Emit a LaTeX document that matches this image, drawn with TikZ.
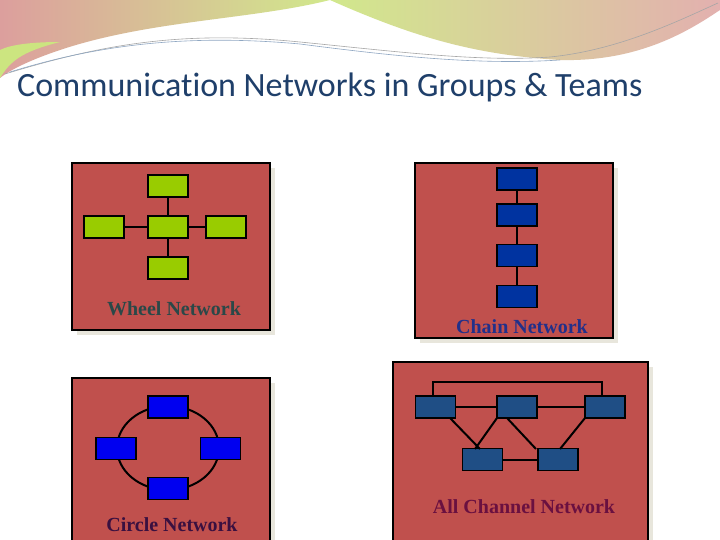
\documentclass[tikz,border=0pt]{standalone}
\usepackage{fontspec}
\setmainfont{Liberation Serif}
\newfontfamily\titlefont[Ligatures={NoCommon}]{Carlito}
\definecolor{panel}{HTML}{C0504D}
\definecolor{lime}{HTML}{99CC00}
\definecolor{chainblue}{HTML}{0033A0}
\definecolor{brightblue}{HTML}{0000F0}
\definecolor{steel}{HTML}{1F4E85}
\definecolor{titleblue}{HTML}{1F3F6A}
\definecolor{wheeltxt}{HTML}{2A4848}
\definecolor{chaintxt}{HTML}{22308A}
\definecolor{circletxt}{HTML}{3A1040}
\definecolor{alltxt}{HTML}{6A1040}
\definecolor{shade}{HTML}{E8E6DC}
\begin{document}
\begin{tikzpicture}[x=1pt,y=-1pt,
  panelbox/.style={draw=black,line width=1.8pt,fill=panel},
  shadowbox/.style={fill=shade},
  nodebox/.style={draw=black,line width=1.8pt,minimum width=40pt,minimum height=22pt,inner sep=0pt},
  link/.style={draw=black,line width=2pt},
  lbl/.style={font=\bfseries\fontsize{20}{22}\selectfont}]
\useasboundingbox (0,0) rectangle (720,540);
\fill[white] (0,0) rectangle (720,540);
% header waves
\shade[left color=panel!55!white,right color=lime!45!white] (0,0) -- (330,0) .. controls (250,20) and (150,20) .. (60,50) .. controls (30,60) and (10,70) .. (0,78) -- cycle;
\shade[left color=lime!45!white,right color=panel!45!white] (330,0) .. controls (420,40) and (480,55) .. (560,60) .. controls (640,62) and (690,30) .. (720,10) -- (720,0) -- cycle;
\fill[lime!50!white] (0,50) .. controls (10,45) and (30,42) .. (60,42) .. controls (20,52) and (10,62) .. (0,78) -- cycle;
\draw[gray!70,line width=0.6pt] (5,74) .. controls (100,45) and (180,30) .. (300,42) .. controls (400,52) and (480,62) .. (550,57) .. controls (620,50) and (680,20) .. (718,3);
\draw[steel!50,line width=0.6pt] (10,72) .. controls (100,44) and (190,34) .. (300,44) .. controls (400,57) and (480,65) .. (560,60);
\node[anchor=base west,inner sep=0pt,text=titleblue,font=\titlefont\fontsize{34}{38}\selectfont] (title) at (17,97) {Communication Networks in Groups \& Teams};
% shadows
\fill[shadowbox] (77,168) rectangle (275,335);
\fill[shadowbox] (420,168) rectangle (618,343);
\fill[shadowbox] (77,383) rectangle (275,540);
\fill[shadowbox] (398,367) rectangle (653,540);
% Wheel
\draw[panelbox] (72,163) rectangle (270,330);
\node[nodebox,fill=lime] (wt) at (168,186) {};
\node[nodebox,fill=lime] (wl) at (104,227) {};
\node[nodebox,fill=lime] (wc) at (168,227) {};
\node[nodebox,fill=lime] (wr) at (226,227) {};
\node[nodebox,fill=lime] (wb) at (168,268) {};
\draw[link] (wt) -- (wc) (wl) -- (wc) (wc) -- (wr) (wc) -- (wb);
\node[lbl,text=wheeltxt] (wlab) at (174,309) {Wheel Network};
% Chain
\draw[panelbox] (415,163) rectangle (613,338);
\node[nodebox,fill=chainblue] (c1) at (517,179) {};
\node[nodebox,fill=chainblue] (c2) at (517,215) {};
\node[nodebox,fill=chainblue] (c3) at (517,255.5) {};
\node[nodebox,fill=chainblue] (c4) at (517,296.5) {};
\draw[link] (c1) -- (c2) (c2) -- (c3) (c3) -- (c4);
\node[lbl,text=chaintxt] (clab) at (522,327) {Chain Network};
% Circle
\draw[panelbox] (72,378) rectangle (270,545);
\draw[link] (168,448) ellipse [x radius=51, y radius=42];
\node[nodebox,fill=brightblue] (ot) at (168,407) {};
\node[nodebox,fill=brightblue] (ol) at (116,448.5) {};
\node[nodebox,fill=brightblue] (or) at (220.5,448.5) {};
\node[nodebox,fill=brightblue] (ob) at (168,488.5) {};
\node[lbl,text=circletxt] (olab) at (172,525) {Circle Network};
% All channel
\draw[panelbox] (393,362) rectangle (648,545);
\node[nodebox,fill=steel] (a1) at (435.5,407) {};
\node[nodebox,fill=steel] (a2) at (517,407) {};
\node[nodebox,fill=steel] (a3) at (605,407) {};
\node[nodebox,fill=steel] (a4) at (482.5,459.5) {};
\node[nodebox,fill=steel] (a5) at (558,459.5) {};
\coordinate (t1) at (433,382);
\coordinate (t2) at (602,382);
\draw[link] (a1.north -| t1) -- (t1) -- (t2) -- (a3.north -| t2);
\draw[link] (a1) -- (a2) (a2) -- (a3) (a4) -- (a5);
\draw[link] (450,418) -- (480,449) (497,418) -- (475,449);
\draw[link] (507,418) -- (536,449) (585,418) -- (560,449);
\node[lbl,text=alltxt] (alab) at (524,507) {All Channel Network};
\end{tikzpicture}
\end{document}
